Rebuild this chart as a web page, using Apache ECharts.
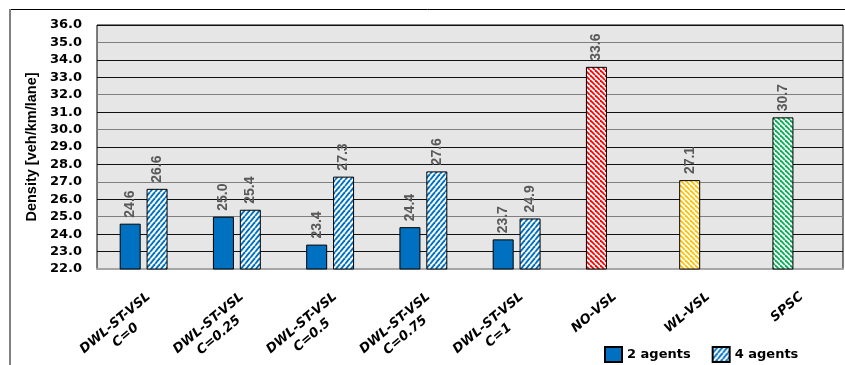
<!DOCTYPE html>
<html>
<head>
<meta charset="utf-8">
<title>Density</title>
<script src="https://cdn.jsdelivr.net/npm/echarts@6/dist/echarts.min.js"></script>
<style>
  html, body { margin: 0; padding: 0; background: #fff; }
  #chart { width: 845px; height: 365px; }
</style>
</head>
<body>
<div id="chart"></div>
<script>
  var categories = ['DWL-ST-VSL\nC=0', 'DWL-ST-VSL\nC=0.25', 'DWL-ST-VSL\nC=0.5', 'DWL-ST-VSL\nC=0.75',
    'DWL-ST-VSL\nC=1', 'NO-VSL', 'WL-VSL', 'SPSC'];
  var agents2 = [24.6, 25.0, 23.4, 24.4, 23.7, 33.6, 27.1, 30.7];
  var agents4 = [26.6, 25.4, 27.3, 27.6, 24.9, null, null, null];
  // single bars (index 5..7) get their own hatch colour
  var singleColors = { 5: '#ff0000', 6: '#ffc000', 7: '#00b050' };

  var yMin = 22, yMax = 36, yStep = 1;

  // diagonal hatch tile
  function hatch(color, dir, w, h, lw) {
    var c = document.createElement('canvas');
    c.width = w; c.height = h;
    var ctx = c.getContext('2d');
    ctx.fillStyle = '#fff';
    ctx.fillRect(0, 0, w, h);
    ctx.strokeStyle = color;
    ctx.lineWidth = lw;
    for (var k = -1; k <= 1; k++) {
      ctx.beginPath();
      if (dir > 0) {
        ctx.moveTo(k * w, h); ctx.lineTo((k + 1) * w, 0);
      } else {
        ctx.moveTo(k * w, 0); ctx.lineTo((k + 1) * w, h);
      }
      ctx.stroke();
    }
    return { image: c, repeat: 'repeat' };
  }

  var xFont = 'italic bold 13px "DejaVu Sans"';
  var mctx = document.createElement('canvas').getContext('2d');
  mctx.font = xFont;
  var lineW = 0;
  categories.forEach(function (c) {
    c.split('\n').forEach(function (l) { lineW = Math.max(lineW, mctx.measureText(l).width); });
  });

  var dataLabel = {
    show: true,
    position: 'top',
    rotate: 90,
    align: 'left',
    verticalAlign: 'middle',
    distance: 6,
    color: '#595959',
    fontFamily: 'Liberation Sans',
    fontWeight: 'bold',
    fontSize: 14,
    formatter: function (p) { return p.value.toFixed(1); }
  };

  var data2 = agents2.map(function (v, i) {
    if (singleColors[i]) {
      return { value: v, itemStyle: { color: hatch(singleColors[i], -1, 5, 5, 1.8) } };
    }
    return v;
  });

  var chart = echarts.init(document.getElementById('chart'));
  chart.setOption({
    animation: false,
    graphic: [
      { type: 'line', shape: { x1: 10, y1: 9.5, x2: 845, y2: 9.5 }, style: { stroke: '#000', lineWidth: 1 } },
      { type: 'line', shape: { x1: 10, y1: 9, x2: 10, y2: 365 }, style: { stroke: '#808080', lineWidth: 2 } }
    ],
    grid: {
      left: 97, right: 2, top: 25, bottom: 96,
      containLabel: false,
      outerBoundsMode: 'none',
      show: true,
      backgroundColor: '#e6e6e6',
      borderColor: '#000',
      borderWidth: 1
    },
    legend: {
      left: 599,
      top: 341,
      itemWidth: 17,
      itemHeight: 15,
      itemGap: 21,
      icon: 'rect',
      textStyle: { fontFamily: 'DejaVu Sans', fontWeight: 'bold', fontSize: 13, color: '#000' },
      data: ['2 agents', '4 agents']
    },
    xAxis: {
      type: 'category',
      data: categories,
      axisTick: { show: false },
      axisLine: { lineStyle: { color: '#a6a6a6', width: 2 } },
      axisLabel: {
        interval: 0,
        rotate: 40,
        align: 'right',
        verticalAlign: 'top',
        margin: 20,
        color: '#000',
        fontFamily: 'DejaVu Sans',
        fontStyle: 'italic',
        fontWeight: 'bold',
        fontSize: 13,
        lineHeight: 16,
        formatter: function (v) {
          if (v.indexOf('\n') < 0) return v;
          return v.split('\n').map(function (l) { return '{c|' + l + '}'; }).join('\n');
        },
        rich: {
          c: {
            width: lineW,
            align: 'center',
            color: '#000',
            fontFamily: 'DejaVu Sans',
            fontStyle: 'italic',
            fontWeight: 'bold',
            fontSize: 13,
            lineHeight: 16
          }
        }
      }
    },
    yAxis: {
      type: 'value',
      min: yMin,
      max: yMax,
      interval: yStep,
      name: 'Density [veh/km/lane]',
      nameLocation: 'middle',
      nameGap: 53,
      nameTextStyle: { fontFamily: 'Liberation Sans', fontWeight: 'bold', fontSize: 14.5, color: '#000' },
      axisLine: { show: false },
      axisTick: { show: false },
      axisLabel: {
        margin: 15,
        color: '#000',
        fontFamily: 'DejaVu Sans',
        fontWeight: 'bold',
        fontSize: 13,
        formatter: function (v) { return v.toFixed(1); }
      },
      splitLine: {
        lineStyle: { color: ['#7f7f7f', '#111', '#111', '#7f7f7f', '#111'], width: 1 }
      }
    },
    series: [
      {
        name: '2 agents',
        type: 'bar',
        barWidth: 21,
        barGap: '28%',
        itemStyle: { color: '#0070c0', borderColor: '#000', borderWidth: 1 },
        label: dataLabel,
        data: data2
      },
      {
        name: '4 agents',
        type: 'bar',
        barWidth: 21,
        itemStyle: { color: hatch('#0070c0', 1, 5, 6, 1.9), borderColor: '#000', borderWidth: 1 },
        label: dataLabel,
        data: agents4
      }
    ]
  });
</script>
</body>
</html>
